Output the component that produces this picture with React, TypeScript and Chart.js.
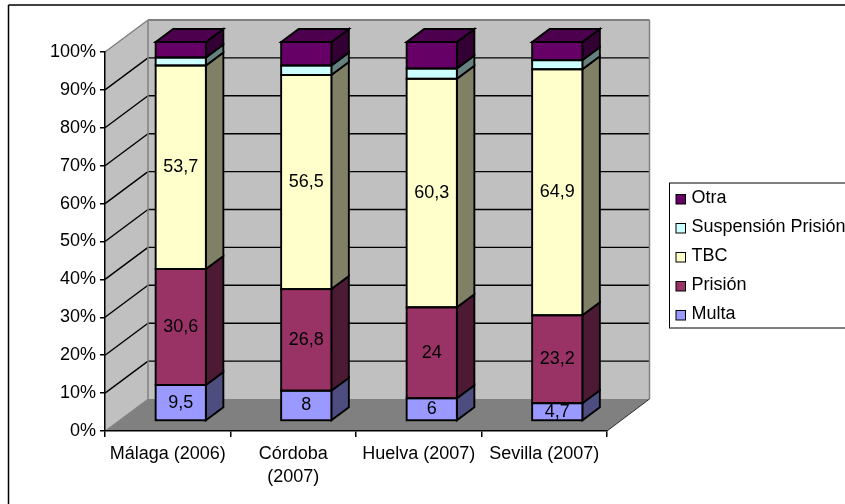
import { useEffect, useRef } from "react";
import { Chart, registerables } from "chart.js";

Chart.register(...registerables);

const categories = [
  ["Málaga (2006)"],
  ["Córdoba", "(2007)"],
  ["Huelva (2007)"],
  ["Sevilla (2007)"],
];

const multa = [9.5, 8, 6, 4.7];
const prision = [30.6, 26.8, 24, 23.2];
const tbc = [53.7, 56.5, 60.3, 64.9];
const suspension = [2.1, 2.5, 2.7, 2.4];
const otra = [4.1, 6.2, 7.0, 4.8];

const yTicks = [0, 10, 20, 30, 40, 50, 60, 70, 80, 90, 100];

const FONT = '"Liberation Sans", Arial, sans-serif';
const FONT_SIZE = 18;
const OUTLINE = 1.9;

// Oblique offsets of the 3D box and of each column
const WALL_DX = 43;
const WALL_DY = -32;
const BAR_SHIFT_X = 13;
const BAR_SHIFT_Y = -10;
const BAR_DX = 17.5;
const BAR_DY = -13;

const faces: Record<string, { side: string; top: string }> = {
  Multa: { side: "#4d4d80", top: "#7373bf" },
  "Prisión": { side: "#4d1a33", top: "#73264d" },
  TBC: { side: "#808066", top: "#bfbf99" },
  "Suspensión Prisión": { side: "#668080", top: "#99bfbf" },
  Otra: { side: "#330033", top: "#4d004d" },
};

const polygon = (ctx: CanvasRenderingContext2D, pts: number[][], fill?: string, stroke?: string, lw = 1) => {
  ctx.beginPath();
  pts.forEach(([x, y], i) => (i ? ctx.lineTo(x, y) : ctx.moveTo(x, y)));
  ctx.closePath();
  if (fill) {
    ctx.fillStyle = fill;
    ctx.fill();
  }
  if (stroke) {
    ctx.strokeStyle = stroke;
    ctx.lineWidth = lw;
    ctx.lineJoin = "miter";
    ctx.stroke();
  }
};

const line = (ctx: CanvasRenderingContext2D, x1: number, y1: number, x2: number, y2: number, color: string, lw: number) => {
  ctx.beginPath();
  ctx.moveTo(x1, y1);
  ctx.lineTo(x2, y2);
  ctx.strokeStyle = color;
  ctx.lineWidth = lw;
  ctx.stroke();
};

// Outer frame, walls, floor and gridlines of the 3D box
const boxPlugin = {
  id: "box3d",
  beforeDraw(chart: any) {
    const { ctx, chartArea: a, scales } = chart;
    const y = scales.y;
    ctx.save();
    ctx.fillStyle = "#ffffff";
    ctx.fillRect(0, 0, chart.width, chart.height);

    line(ctx, 8.5, 5, 8.5, chart.height, "#000000", 1.5);
    line(ctx, 8.5, 5, chart.width, 5, "#000000", 1.5);

    const backL = a.left + WALL_DX;
    const backR = a.right + WALL_DX - 0.5;
    const backT = a.top + WALL_DY;
    const backB = a.bottom + WALL_DY;

    polygon(ctx, [[a.left, a.top], [backL, backT], [backL, backB], [a.left, a.bottom]], "#c0c0c0");
    polygon(ctx, [[backL, backT], [backR, backT], [backR, backB], [backL, backB]], "#c0c0c0");
    polygon(ctx, [[a.left, a.bottom], [backL, backB], [backR, backB], [a.right, a.bottom]], "#808080");

    yTicks.forEach((v) => {
      const py = y.getPixelForValue(v);
      if (v > 0 && v < 100) {
        line(ctx, a.left, py, backL, py + WALL_DY, "#000000", 1.4);
        line(ctx, backL, py + WALL_DY, backR, py + WALL_DY, "#000000", 1.4);
      }
    });

    line(ctx, a.left, a.top, backL, backT, "#808080", 1.5);
    line(ctx, backL, backT, backR, backT, "#808080", 2);
    line(ctx, backL, backT, backL, backB, "#808080", 1.5);
    line(ctx, backR, backT, backR, backB, "#808080", 1.5);
    line(ctx, a.left, a.bottom, backL, backB, "#808080", 1);
    line(ctx, a.right, a.bottom, backR, backB, "#303030", 1);
    ctx.restore();
  },

  // Side and top faces first, then the library's front faces are shifted into the box
  beforeDatasetsDraw(chart: any) {
    const { ctx } = chart;
    ctx.save();
    ctx.translate(BAR_SHIFT_X, BAR_SHIFT_Y);
    const count = chart.data.datasets.length;
    chart.data.datasets.forEach((ds: any, di: number) => {
      const meta = chart.getDatasetMeta(di);
      meta.data.forEach((bar: any) => {
        const { x, y, base, width } = bar.getProps(["x", "y", "base", "width"], true);
        const r = x + width / 2;
        const l = x - width / 2;
        polygon(
          ctx,
          [[r, y], [r + BAR_DX, y + BAR_DY], [r + BAR_DX, base + BAR_DY], [r, base]],
          faces[ds.label].side,
          "#000000",
          OUTLINE,
        );
        if (di === count - 1) {
          polygon(
            ctx,
            [[l, y], [l + BAR_DX, y + BAR_DY], [r + BAR_DX, y + BAR_DY], [r, y]],
            faces[ds.label].top,
            "#000000",
            OUTLINE,
          );
        }
      });
    });
    ctx.restore();
    ctx.save();
    ctx.translate(BAR_SHIFT_X, BAR_SHIFT_Y);
  },

  afterDatasetsDraw(chart: any) {
    const { ctx } = chart;

    // Even outline around every front face, still inside the shifted context
    chart.data.datasets.forEach((_: any, di: number) => {
      chart.getDatasetMeta(di).data.forEach((bar: any) => {
        const { x, y, base, width } = bar.getProps(["x", "y", "base", "width"], true);
        ctx.strokeStyle = "#000000";
        ctx.lineWidth = OUTLINE;
        ctx.strokeRect(x - width / 2, y, width, base - y);
      });
    });
    ctx.restore();

    // Value labels on the three largest series
    ctx.save();
    ctx.font = `${FONT_SIZE}px ${FONT}`;
    ctx.fillStyle = "#000000";
    ctx.textAlign = "center";
    ctx.textBaseline = "middle";
    chart.data.datasets.forEach((ds: any, di: number) => {
      if (!ds.showValue) return;
      chart.getDatasetMeta(di).data.forEach((bar: any, i: number) => {
        const { x, y, base } = bar.getProps(["x", "y", "base"], true);
        const text = String(ds.data[i]).replace(".", ",");
        ctx.fillText(text, x + BAR_SHIFT_X, (y + base) / 2 + BAR_SHIFT_Y);
      });
    });
    ctx.restore();

    // Legend box, running off the right edge of the canvas
    ctx.save();
    const left = 669.5;
    const top = 183;
    const rows = [...chart.data.datasets].reverse();
    ctx.fillStyle = "#ffffff";
    ctx.fillRect(left, top, chart.width - left + 20, 145);
    ctx.strokeStyle = "#000000";
    ctx.lineWidth = 1;
    ctx.strokeRect(left, top, chart.width - left + 20, 145);
    ctx.font = `${FONT_SIZE}px ${FONT}`;
    ctx.textAlign = "left";
    ctx.textBaseline = "middle";
    rows.forEach((ds: any, i: number) => {
      const cy = top + 15.5 + i * 29;
      ctx.fillStyle = ds.backgroundColor;
      ctx.fillRect(676, cy - 4, 9.5, 9.5);
      ctx.strokeStyle = "#000000";
      ctx.lineWidth = 1;
      ctx.strokeRect(676, cy - 4, 9.5, 9.5);
      ctx.fillStyle = "#000000";
      ctx.fillText(ds.label, 691.5, cy);
    });
    ctx.restore();
  },
};

export default function App() {
  const ref = useRef<HTMLCanvasElement>(null);

  useEffect(() => {
    const series = (label: string, data: number[], color: string, showValue: boolean) => ({
      label,
      data,
      backgroundColor: color,
      borderWidth: 0,
      showValue,
      clip: false,
    });

    const chart = new Chart(ref.current!, {
      type: "bar",
      data: {
        labels: categories,
        datasets: [
          series("Multa", multa, "#9999ff", true),
          series("Prisión", prision, "#993366", true),
          series("TBC", tbc, "#ffffcc", true),
          series("Suspensión Prisión", suspension, "#ccffff", false),
          series("Otra", otra, "#660066", false),
        ],
      } as any,
      options: {
        animation: false,
        responsive: false,
        devicePixelRatio: 1,
        layout: { padding: { top: 52, right: 238, left: 0, bottom: 0 } },
        plugins: { legend: { display: false }, tooltip: { enabled: false }, title: { display: false } },
        datasets: { bar: { categoryPercentage: 0.4, barPercentage: 1 } },
        scales: {
          x: {
            stacked: true,
            grid: { drawOnChartArea: false, drawTicks: true, tickLength: 6, color: "#000000", lineWidth: 1.5 },
            border: { color: "#000000", width: 1.5 },
            ticks: {
              autoSkip: false,
              maxRotation: 0,
              color: "#000000",
              padding: 5,
              font: { family: FONT, size: FONT_SIZE, lineHeight: 1.3 },
            },
            afterFit(scale: any) {
              scale.height = 73;
            },
          },
          y: {
            stacked: true,
            min: 0,
            max: 100,
            afterBuildTicks(scale: any) {
              scale.ticks = yTicks.map((value) => ({ value }));
            },
            grid: { drawOnChartArea: false, drawTicks: true, tickLength: 5, color: "#000000", lineWidth: 1.5 },
            border: { color: "#000000", width: 1.5 },
            ticks: {
              color: "#000000",
              padding: 4,
              font: { family: FONT, size: FONT_SIZE },
              callback: (v: any) => `${v}%`,
            },
            afterFit(scale: any) {
              scale.width = 105;
            },
          },
        },
      } as any,
      plugins: [boxPlugin],
    });
    return () => chart.destroy();
  }, []);

  return (
    <div style={{ position: "fixed", left: 0, top: 0, width: 845, height: 504, background: "#ffffff", overflow: "hidden" }}>
      <canvas ref={ref} width={845} height={504} style={{ display: "block" }} />
    </div>
  );
}
